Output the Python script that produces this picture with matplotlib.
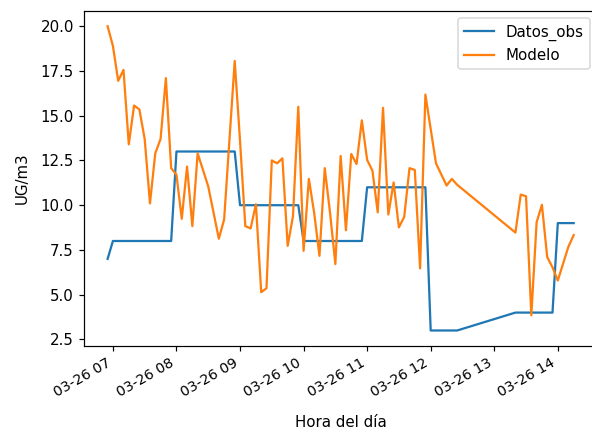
import matplotlib
matplotlib.use("Agg")
import matplotlib.pyplot as plt
import matplotlib.dates as mdates
import pandas as pd

day = "2021-03-26 "

# Observed data (step breakpoints)
obs_times = ["06:55", "07:00", "07:55", "08:00", "08:55", "09:00", "09:55", "10:00",
             "10:55", "11:00", "11:55", "12:00", "12:25", "13:20", "13:55", "14:00", "14:15"]
obs_values = [7, 8, 8, 13, 13, 10, 10, 8, 8, 11, 11, 3, 3, 4, 4, 9, 9]

# Model data
model_times = ["06:55", "07:00", "07:05", "07:10", "07:15", "07:20", "07:25", "07:30", "07:35",
               "07:40", "07:45", "07:50", "07:55", "08:00", "08:05", "08:10", "08:15", "08:20",
               "08:30", "08:40", "08:45", "08:55", "09:00", "09:05", "09:10", "09:15", "09:20",
               "09:25", "09:30", "09:35", "09:40", "09:45", "09:50", "09:55", "10:00", "10:05",
               "10:10", "10:15", "10:20", "10:25", "10:30", "10:35", "10:40", "10:45", "10:50",
               "10:55", "11:00", "11:05", "11:10", "11:15", "11:20", "11:25", "11:30", "11:35",
               "11:40", "11:45", "11:50", "11:55", "12:05", "12:15", "12:20", "12:25", "13:20",
               "13:25", "13:30", "13:35", "13:40", "13:45", "13:50", "13:55", "14:00", "14:10",
               "14:15"]
model_values = [20.0, 18.9, 16.95, 17.56, 13.4, 15.57, 15.35, 13.7, 10.1,
                12.9, 13.7, 17.1, 12.07, 11.7, 9.24, 12.16, 8.83, 12.9,
                11.05, 8.13, 9.2, 18.06, 13.6, 8.83, 8.7, 10.05, 5.14,
                5.36, 12.5, 12.34, 12.62, 7.73, 9.39, 15.5, 7.45, 11.47,
                9.57, 7.17, 12.07, 9.57, 6.71, 12.75, 8.6, 12.86, 12.3,
                14.74, 12.53, 11.93, 9.6, 15.44, 9.48, 11.27, 8.76, 9.35,
                12.07, 11.97, 6.47, 16.18, 12.34, 11.1, 11.47, 11.14, 8.47,
                10.59, 10.5, 3.85, 9.05, 10.02, 7.1, 6.53, 5.79, 7.68,
                8.33]

obs_dt = pd.to_datetime([day + t for t in obs_times])
model_dt = pd.to_datetime([day + t for t in model_times])

plt.rcParams["font.size"] = 10
fig = plt.figure(figsize=(592 / 108, 440 / 108), dpi=108)
ax = fig.add_axes([84.3 / 592, 1 - 345.7 / 440, (597 - 84.3) / 592, (345.7 - 11) / 440])

ax.plot(obs_dt, obs_values, color="#1f77b4", label="Datos_obs")
ax.plot(model_dt, model_values, color="#ff7f0e", label="Modelo")

ax.xaxis.set_major_locator(mdates.HourLocator())
ax.xaxis.set_major_formatter(mdates.DateFormatter("%m-%d %H"))
ax.tick_params(axis="x", labelsize=9.4)
for lbl in ax.get_xticklabels():
    lbl.set_rotation(30)
    lbl.set_ha("right")

ax.set_xlabel("Hora del día", labelpad=10)
ax.set_ylabel("UG/m3", labelpad=7)
ax.legend(loc="upper right")

fig.savefig("out.png", dpi=108)
